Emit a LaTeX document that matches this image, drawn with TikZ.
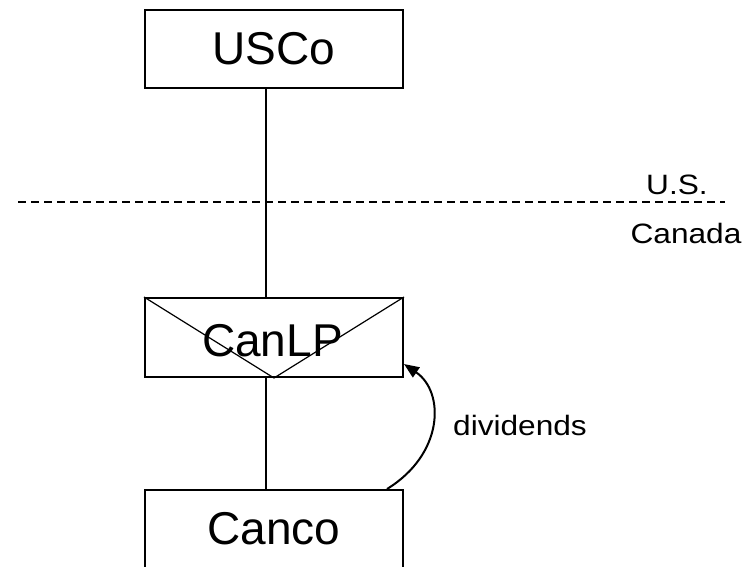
\documentclass[tikz,border=0pt]{standalone}
\usepackage{fontspec}
\setmainfont{Liberation Sans}
\newfontfamily\labelfont{Liberation Sans}[FakeStretch=1.13]
\usetikzlibrary{arrows.meta}

\begin{document}
\begin{tikzpicture}[x=1pt,y=-1pt,line width=2pt,
  entity/.style={draw,line width=2pt,minimum width=258pt,minimum height=78pt,inner sep=0pt,font=\fontsize{46}{52}\selectfont},
  label/.style={anchor=center,inner sep=1pt,font=\labelfont\fontsize{28}{32}\selectfont}]
\path[use as bounding box] (0,0) rectangle (752,567);
\coordinate (spine) at (266,0);
\node[entity] (usco) at (274,49) {USCo};
\node[entity,minimum height=79pt] (canlp) at (274,337.5) {};
\node[entity] (canco) at (274,529) {Canco};
\draw[line width=1.2pt] (canlp.north west) -- (canlp.south) -- (canlp.north east);
\node[anchor=center,inner sep=0pt,font=\fontsize{46}{52}\selectfont] (canlptext) at (272.5,340.5) {CanLP};
\draw (usco.south -| spine) -- (canlp.north -| spine);
\draw (canlp.south -| spine) -- (canco.north -| spine);
\draw[line width=1.8pt,dash pattern=on 8pt off 5pt] (18,202) -- (725,202);
\node[label] (us) at (677,185) {U.S.};
\node[label] (canada) at (686,233) {Canada};
\draw[-{Triangle[length=15pt,width=12pt]}] ([xshift=113pt]canco.north) .. controls +(57,-35) and +(41,28) .. ([yshift=14pt]canlp.south east);
\node[label] (div) at (520,425) {dividends};
\end{tikzpicture}
\end{document}
